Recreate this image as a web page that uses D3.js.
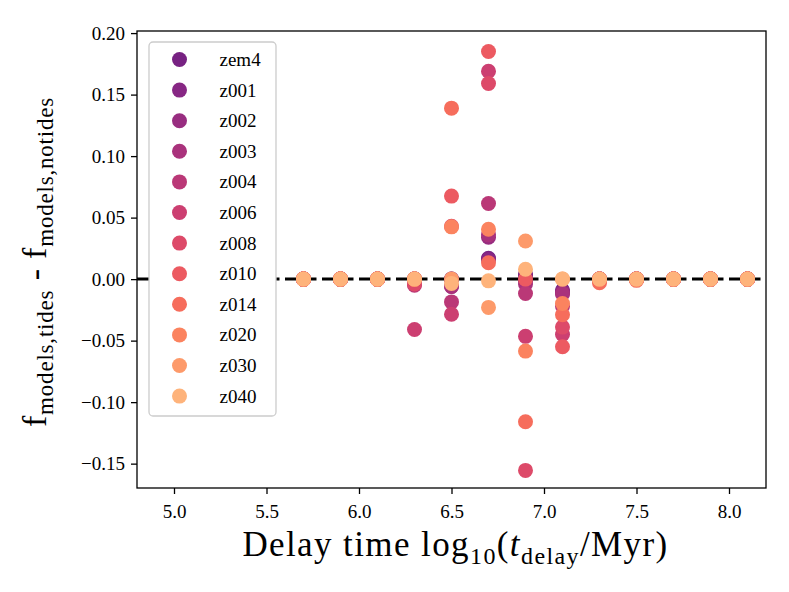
<!DOCTYPE html>
<html lang="en">
  <head>
    <meta charset="UTF-8" />
    <title></title>
    <script src="https://d3js.org/d3.v7.min.js"></script>
    <style>
      body { margin: 0; background: #fff; }
      text { font-family: 'Liberation Serif', 'DejaVu Serif', serif; fill: #000; }
    </style>
  </head>
  <body>
    <div id="my_dataviz"></div>
    <script>
      // delay time columns, log10(t/Myr)
      const delays = [5.7, 5.9, 6.1, 6.3, 6.5, 6.7, 6.9, 7.1, 7.3, 7.5, 7.7, 7.9, 8.1]

      // metallicity models, drawn in this order (last on top)
      const models = ['zem4', 'z001', 'z002', 'z003', 'z004', 'z006', 'z008', 'z010', 'z014', 'z020', 'z030', 'z040']

      // f_tides - f_notides per model, one value per delay column
      const zem4 = [0, 0, 0, 0, 0, 0.017, 0.004, -0.009, 0, 0, 0, 0, 0]
      const z001 = [0, 0, 0, 0, 0, 0.016, 0.003, -0.010, 0, 0, 0, 0, 0]
      const z002 = [0, 0, 0, 0, -0.006, 0.034, -0.002, -0.011, 0, 0, 0, 0, 0]
      const z003 = [0, 0, 0, 0, -0.006, 0.036, -0.004, -0.012, 0, 0, 0, 0, 0]
      const z004 = [0, 0, 0, -0.005, -0.0185, 0.0615, -0.0117, -0.022, 0, 0, 0, 0, 0]
      const z006 = [0, 0, 0, -0.041, -0.0285, 0.169, -0.0465, -0.045, 0, 0, 0, 0, 0]
      const z008 = [0, 0, 0, -0.004, 0.043, 0.159, -0.1555, -0.039, 0, 0, 0, 0, 0]
      const z010 = [0, 0, 0, 0, 0.0675, 0.185, 0, -0.055, -0.002, 0, 0, 0, 0]
      const z014 = [0, 0, 0, 0, 0.139, 0.0133, -0.116, -0.029, -0.003, -0.001, 0, 0, 0]
      const z020 = [0, 0, 0, 0, 0.0425, 0.0405, -0.0585, -0.0198, 0, 0, 0, 0, 0]
      const z030 = [0, 0, 0, 0, 0, -0.023, 0.031, 0, 0, 0, 0, 0, 0]
      const z040 = [0, 0, 0, 0, -0.0035, -0.0014, 0.008, 0, 0, 0, 0, 0, 0]
      const seriesValues = [zem4, z001, z002, z003, z004, z006, z008, z010, z014, z020, z030, z040]

      // tick labels
      const xTicks = [5.0, 5.5, 6.0, 6.5, 7.0, 7.5, 8.0]
      const yTicks = [-0.15, -0.10, -0.05, 0.0, 0.05, 0.10, 0.15, 0.20]

      // magma-like palette, one colour per model
      const palette = ['#772282', '#872784', '#982d80', '#a9327c', '#ba3877', '#cc3f71', '#dd4a69', '#ec5a61',
        '#f66d5c', '#fb835f', '#fd9a6a', '#feb37b']

      const W = 789, H = 592
      const margin = { top: 31, right: 23, bottom: 104, left: 137 }
      const width = W - margin.left - margin.right
      const height = H - margin.top - margin.bottom

      const svgRoot = d3.select('#my_dataviz').append('svg').attr('width', W).attr('height', H)
      const svg = svgRoot.append('g').attr('transform', `translate(${margin.left}, ${margin.top})`)

      const x = d3.scaleLinear().domain([4.8, 8.2]).range([0, width])
      const y = d3.scaleLinear().domain([-0.1698, 0.2017]).range([height, 0])

      const color = d3.scaleOrdinal().domain(models).range(palette)

      // zero line
      svg.append('line')
        .attr('x1', 0).attr('x2', width)
        .attr('y1', y(0)).attr('y2', y(0))
        .attr('stroke', '#000')
        .attr('stroke-width', 3)
        .attr('stroke-dasharray', '13,5.5')

      // points
      const points = []
      models.forEach((m, i) => {
        seriesValues[i].forEach((v, j) => points.push({ model: m, x: delays[j], v: v }))
      })
      svg.selectAll('circle.pt')
        .data(points)
        .join('circle')
        .attr('class', 'pt')
        .attr('cx', d => x(d.x))
        .attr('cy', d => y(d.v))
        .attr('r', 7.5)
        .attr('fill', d => color(d.model))

      // axes
      const xAxis = svg.append('g')
        .attr('transform', `translate(0, ${height})`)
        .call(d3.axisBottom(x).tickValues(xTicks).tickSize(6).tickPadding(6).tickFormat(d3.format('.1f')))
      const yAxis = svg.append('g')
        .call(d3.axisLeft(y).tickValues(yTicks).tickSize(6).tickPadding(6).tickFormat(d3.format('.2f')))
      ;[xAxis, yAxis].forEach(a => {
        a.attr('font-family', null)
        a.select('.domain').remove()
        a.selectAll('.tick line').attr('stroke', '#000').attr('stroke-width', 1.3)
        a.selectAll('.tick text').style('font-family', "'Liberation Serif', serif").style('font-size', '19px')
      })
      xAxis.selectAll('.tick text').attr('dy', '0.95em')

      // frame
      svg.append('rect')
        .attr('width', width).attr('height', height)
        .attr('fill', 'none').attr('stroke', '#000').attr('stroke-width', 1.3)

      // legend
      const leg = svg.append('g').attr('transform', `translate(${149 - margin.left}, ${42 - margin.top})`)
      leg.append('rect')
        .attr('width', 127).attr('height', 374)
        .attr('rx', 4)
        .attr('fill', '#fff')
        .attr('stroke', '#cccccc').attr('stroke-width', 1.3)
      models.forEach((m, i) => {
        const row = leg.append('g').attr('transform', `translate(0, ${17.5 + i * 30.6})`)
        row.append('circle').attr('cx', 30.5).attr('cy', 0).attr('r', 7.5).attr('fill', color(m))
        row.append('text').attr('x', 70.5).attr('y', 6.5).style('font-size', '19px').text(m)
      })

      // x label
      const xl = svgRoot.append('text')
        .attr('x', margin.left + width / 2 + 4)
        .attr('y', 556)
        .attr('text-anchor', 'middle')
        .style('font-size', '35px')
        .style('letter-spacing', '1.4px')
      xl.append('tspan').text('Delay time log')
      xl.append('tspan').attr('dy', 8).style('font-size', '24px').text('10')
      xl.append('tspan').attr('dy', -8).text('(')
      xl.append('tspan').style('font-style', 'italic').text('t')
      xl.append('tspan').attr('dy', 8).style('font-size', '24px').text('delay')
      xl.append('tspan').attr('dy', -8).text('/Myr)')

      // y label
      const yl = svgRoot.append('text')
        .attr('transform', 'translate(46, 262) rotate(-90)')
        .attr('text-anchor', 'middle')
        .style('font-size', '34px')
        .style('letter-spacing', '0.8px')
      yl.append('tspan').text('f')
      yl.append('tspan').attr('dy', 7).style('font-size', '23px').text('models,tides')
      yl.append('tspan').attr('dy', -7).text(' - f')
      yl.append('tspan').attr('dy', 7).style('font-size', '23px').text('models,notides')
    </script>
  </body>
</html>
